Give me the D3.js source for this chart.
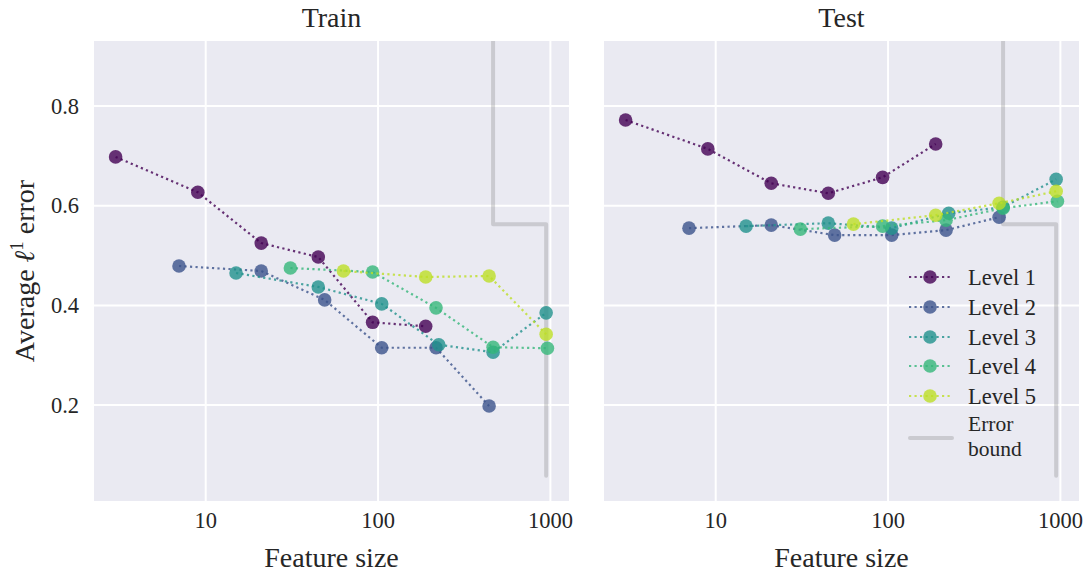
<!DOCTYPE html>
<html>
<head>
<meta charset="utf-8">
<script src="https://cdn.jsdelivr.net/npm/d3@7"></script>
<style>
  html, body { margin: 0; padding: 0; background: #ffffff; }
  svg { display: block; }
  text { font-family: "Liberation Serif", "Times New Roman", serif; fill: #262626; }
</style>
</head>
<body>
<svg id="chart" width="1088" height="574"></svg>
<script>
// ---------------- data ----------------
const levelNames = ["Level 1", "Level 2", "Level 3", "Level 4", "Level 5"];
const levelColors = ["#440154", "#3b528b", "#21918c", "#35b779", "#bddf26"];

const sizes1 = [3, 9, 21, 45, 93, 189];
const sizes2 = [7, 21, 49, 105, 217, 441];
const sizes3 = [15, 45, 105, 225, 465, 945];
const sizes4 = [31, 93, 217, 465, 961];
const sizes5 = [63, 189, 441, 945];

const train1 = [0.698, 0.627, 0.525, 0.497, 0.366, 0.358];
const train2 = [0.479, 0.469, 0.411, 0.315, 0.315, 0.198];
const train3 = [0.465, 0.437, 0.403, 0.321, 0.306, 0.385];
const train4 = [0.475, 0.467, 0.395, 0.316, 0.314];
const train5 = [0.469, 0.457, 0.459, 0.342];

const test1 = [0.772, 0.714, 0.645, 0.625, 0.657, 0.724];
const test2 = [0.555, 0.561, 0.541, 0.541, 0.551, 0.577];
const test3 = [0.559, 0.565, 0.555, 0.585, 0.597, 0.653];
const test4 = [0.553, 0.559, 0.571, 0.595, 0.609];
const test5 = [0.563, 0.581, 0.605, 0.629];

const boundX = [465, 465, 945, 945];
const boundY = [1.5, 0.563, 0.563, 0.058];
const boundLabel = ["Error", "bound"];

const xTicks = [10, 100, 1000];
const xTickLabels = ["10", "100", "1000"];
const yTicks = [0.2, 0.4, 0.6, 0.8];
const yTickLabels = ["0.2", "0.4", "0.6", "0.8"];

const panelTitles = ["Train", "Test"];
const xLabel = "Feature size";

// ---------------- layout ----------------
const svg = d3.select("#chart");
const plotTop = 41, plotBottom = 501;
const panels = [
  { left: 94, right: 569, title: panelTitles[0],
    series: [[sizes1, train1], [sizes2, train2], [sizes3, train3], [sizes4, train4], [sizes5, train5]] },
  { left: 604, right: 1079, title: panelTitles[1],
    series: [[sizes1, test1], [sizes2, test2], [sizes3, test3], [sizes4, test4], [sizes5, test5]] }
];

const allSizes = [].concat(sizes1, sizes2, sizes3, sizes4, sizes5);
const lmin = Math.log10(d3.min(allSizes)), lmax = Math.log10(d3.max(allSizes));
const pad = (lmax - lmin) * 0.05;
const xDomain = [Math.pow(10, lmin - pad), Math.pow(10, lmax + pad)];
const yDomain = [0.0074, 0.9306];

const y = d3.scaleLinear().domain(yDomain).range([plotBottom, plotTop]);

panels.forEach((p, pi) => {
  const x = d3.scaleLog().domain(xDomain).range([p.left, p.right]);
  const g = svg.append("g");

  g.append("rect").attr("x", p.left).attr("y", plotTop)
    .attr("width", p.right - p.left).attr("height", plotBottom - plotTop)
    .attr("fill", "#eaeaf2");

  const clipId = "clip" + pi;
  svg.append("clipPath").attr("id", clipId).append("rect")
    .attr("x", p.left).attr("y", plotTop)
    .attr("width", p.right - p.left).attr("height", plotBottom - plotTop);

  g.selectAll(".gx").data(xTicks).enter().append("line")
    .attr("x1", d => x(d)).attr("x2", d => x(d))
    .attr("y1", plotTop).attr("y2", plotBottom)
    .attr("stroke", "#ffffff").attr("stroke-width", 2);
  g.selectAll(".gy").data(yTicks).enter().append("line")
    .attr("x1", p.left).attr("x2", p.right)
    .attr("y1", d => y(d)).attr("y2", d => y(d))
    .attr("stroke", "#ffffff").attr("stroke-width", 2);

  g.selectAll(".xt").data(xTicks).enter().append("text")
    .attr("x", d => x(d)).attr("y", 528)
    .attr("text-anchor", "middle").attr("font-size", "22.5px")
    .text((d, i) => xTickLabels[i]);

  if (pi === 0) {
    g.selectAll(".yt").data(yTicks).enter().append("text")
      .attr("x", 79).attr("y", d => y(d) + 7.5)
      .attr("text-anchor", "end").attr("font-size", "22.5px")
      .text((d, i) => yTickLabels[i]);
  }

  g.append("text").attr("x", (p.left + p.right) / 2).attr("y", 27)
    .attr("text-anchor", "middle").attr("font-size", "28px").text(p.title);
  g.append("text").attr("x", (p.left + p.right) / 2).attr("y", 567)
    .attr("text-anchor", "middle").attr("font-size", "28px").text(xLabel);

  const plot = g.append("g").attr("clip-path", `url(#${clipId})`);

  const bLine = d3.line().x(d => x(d[0])).y(d => y(d[1]));
  plot.append("path")
    .attr("d", bLine(boundX.map((v, i) => [v, boundY[i]])))
    .attr("fill", "none").attr("stroke", "#808080").attr("stroke-opacity", 0.3)
    .attr("stroke-width", 4).attr("stroke-linecap", "round").attr("stroke-linejoin", "round");

  const line = d3.line().x(d => x(d[0])).y(d => y(d[1]));
  p.series.forEach((s, si) => {
    const pts = s[0].map((v, i) => [v, s[1][i]]);
    const sg = plot.append("g");
    sg.append("path").attr("d", line(pts))
      .attr("fill", "none").attr("stroke", levelColors[si]).attr("stroke-opacity", 0.8)
      .attr("stroke-width", 2.2).attr("stroke-dasharray", "2.2,3.3");
    sg.selectAll("circle").data(pts).enter().append("circle")
      .attr("cx", d => x(d[0])).attr("cy", d => y(d[1])).attr("r", 6.8)
      .attr("fill", levelColors[si]).attr("fill-opacity", 0.8);
  });

  if (pi === 1) {
    const lg = g.append("g");
    const rowY = [277, 307, 337, 366, 396];
    levelNames.forEach((name, i) => {
      lg.append("line").attr("x1", 909).attr("x2", 951)
        .attr("y1", rowY[i]).attr("y2", rowY[i])
        .attr("stroke", levelColors[i]).attr("stroke-opacity", 0.8)
        .attr("stroke-width", 2.2).attr("stroke-dasharray", "2.2,3.3");
      lg.append("circle").attr("cx", 930).attr("cy", rowY[i]).attr("r", 6.8)
        .attr("fill", levelColors[i]).attr("fill-opacity", 0.8);
      lg.append("text").attr("x", 968).attr("y", rowY[i] + 8)
        .attr("font-size", "22.5px").text(name);
    });
    lg.append("line").attr("x1", 910).attr("x2", 952)
      .attr("y1", 438).attr("y2", 438)
      .attr("stroke", "#808080").attr("stroke-opacity", 0.3)
      .attr("stroke-width", 4).attr("stroke-linecap", "round");
    lg.append("text").attr("x", 968).attr("y", 431)
      .attr("font-size", "21.5px").text(boundLabel[0]);
    lg.append("text").attr("x", 968).attr("y", 456)
      .attr("font-size", "21.5px").text(boundLabel[1]);
  }
});

svg.append("text")
  .attr("transform", `translate(34, ${(plotTop + plotBottom) / 2}) rotate(-90)`)
  .attr("text-anchor", "middle").attr("font-size", "28px")
  .call(t => {
    t.append("tspan").text("Average ");
    t.append("tspan").attr("font-style", "italic").text("\u2113");
    t.append("tspan").attr("font-size", "19px").attr("dy", -11).text("1");
    t.append("tspan").attr("dy", 11).text(" error");
  });
</script>
</body>
</html>
